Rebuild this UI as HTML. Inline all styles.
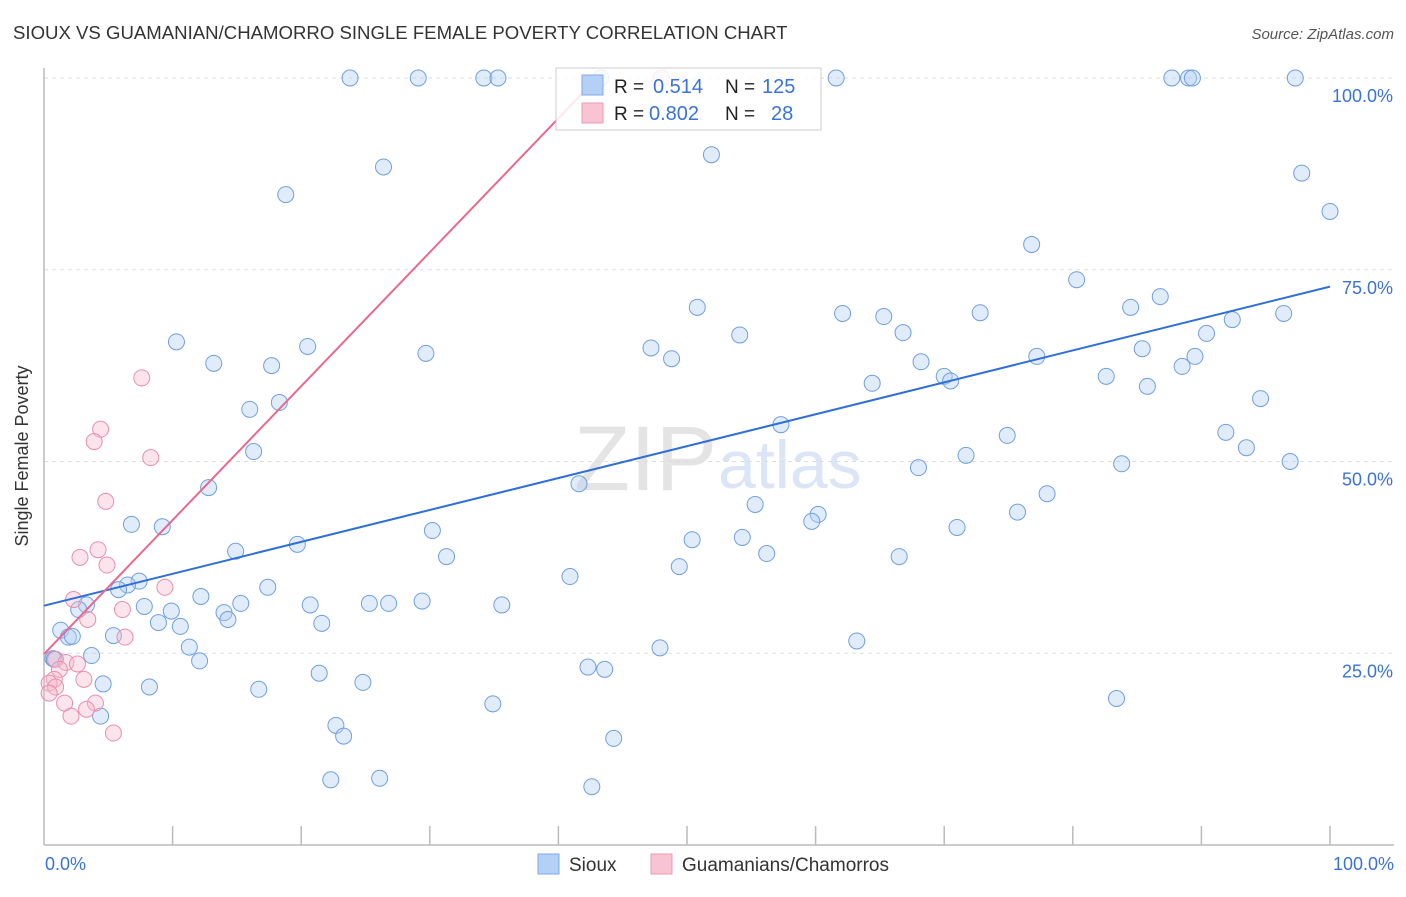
<!DOCTYPE html>
<html><head><meta charset="utf-8"><style>
body{margin:0;background:#fff;font-family:"Liberation Sans",sans-serif;}
svg text{font-family:"Liberation Sans",sans-serif;}
</style></head><body>
<svg width="1406" height="892" xmlns="http://www.w3.org/2000/svg">
<text x="13" y="39" font-size="18.6" fill="#333">SIOUX VS GUAMANIAN/CHAMORRO SINGLE FEMALE POVERTY CORRELATION CHART</text>
<text x="1394" y="39" font-size="15" fill="#555" font-style="italic" text-anchor="end">Source: ZipAtlas.com</text>
<text x="717" y="490" font-size="92" fill="#e4e4e4" font-family="Liberation Serif" text-anchor="end">ZIP</text>
<text x="718" y="488" font-size="68" fill="#dbe5f5">atlas</text>
<g id="grid"></g>
<line x1="44" y1="68" x2="44" y2="845" stroke="#bbb" stroke-width="1.5"/>
<line x1="44" y1="845" x2="1394" y2="845" stroke="#bbb" stroke-width="1.5"/>
<g id="ticks"></g>
<text x="28" y="456" font-size="18" fill="#333" text-anchor="middle" transform="rotate(-90 28 456)">Single Female Poverty</text>
<text x="45" y="870" font-size="18" fill="#3a72d8">0.0%</text>
<text x="1394" y="870" font-size="18" fill="#3a72d8" text-anchor="end">100.0%</text>
<g id="blue"></g><g id="pink"></g><g id="lines"></g>
<g>
<rect x="556" y="68" width="265" height="62" fill="#fff" fill-opacity="0.85" stroke="#ccc"/>
<rect x="582" y="75" width="21" height="20" fill="#b5d0f5" stroke="#7fa8e6"/>
<rect x="582" y="103" width="21" height="20" fill="#f8c3d2" stroke="#ee9ab2"/>
<text x="614" y="93" font-size="19" fill="#222">R = </text><text x="653" y="93" font-size="20" fill="#3a72d8">0.514</text>
<text x="725" y="93" font-size="19" fill="#222">N = </text><text x="762" y="93" font-size="20" fill="#3a72d8">125</text>
<text x="614" y="120" font-size="19" fill="#222">R = </text><text x="649" y="120" font-size="20" fill="#3a72d8">0.802</text>
<text x="725" y="120" font-size="19" fill="#222">N = </text><text x="771" y="120" font-size="20" fill="#3a72d8">28</text>
</g>
<g><rect x="538" y="854" width="21" height="20" fill="#b5d0f5" stroke="#7fa8e6"/><text x="569" y="871" font-size="19" fill="#333">Sioux</text></g>
<g><rect x="651" y="854" width="21" height="20" fill="#f8c3d2" stroke="#ee9ab2"/><text x="682" y="871" font-size="19" fill="#333">Guamanians/Chamorros</text></g>
</svg>
<script>
const yTicks=[25,50,75,100];
const yTickLabels=["25.0%","50.0%","75.0%","100.0%"];
const xTicks=[10,20,30,40,50,60,70,80,90,100];
const siouxX=[23.8,29.1,34.2,35.3,43.3,61.6,87.7,89.0,89.3,97.3,26.4,18.8,51.9,97.8,100,76.8,80.3,86.8,84.5,50.8,62.1,65.3,66.8,54.1,72.8,92.4,96.4,90.4,10.3,20.5,29.7,47.2,48.8,13.2,17.7,85.4,77.2,68.2,89.5,88.5,82.6,70.0,70.5,64.4,85.8,16.0,18.3,94.6,57.3,91.9,74.9,16.3,93.5,71.7,83.8,96.9,68.0,12.8,41.6,78.0,55.3,6.8,9.2,30.2,60.2,59.7,75.7,71.0,50.4,54.3,19.7,14.9,31.3,56.2,66.5,49.4,40.9,7.4,6.5,5.8,17.4,3.3,7.8,12.2,2.7,9.9,15.3,20.7,25.3,26.8,29.4,35.6,14.0,14.3,8.9,10.6,21.6,1.3,1.9,2.2,5.4,0.7,3.7,11.3,12.1,47.9,63.2,4.6,8.2,16.7,21.4,24.8,42.3,43.6,83.4,34.9,4.4,22.7,23.3,44.3,22.3,26.1,42.6,0.8];
const siouxY=[100,100,100,100,100,100,100,100,100,100,88.4,84.8,90.0,87.6,82.6,78.3,73.7,71.5,70.1,70.1,69.3,68.9,66.8,66.5,69.4,68.5,69.3,66.7,65.6,65.0,64.1,64.8,63.4,62.8,62.5,64.7,63.7,63.0,63.7,62.4,61.1,61.1,60.5,60.2,59.8,56.8,57.7,58.2,54.8,53.8,53.4,51.3,51.8,50.8,49.7,50.0,49.2,46.6,47.1,45.8,44.4,41.8,41.5,41.0,43.1,42.2,43.4,41.4,39.8,40.1,39.2,38.3,37.6,38.0,37.6,36.3,35.0,34.4,33.9,33.3,33.6,31.3,31.1,32.4,30.7,30.5,31.5,31.3,31.5,31.5,31.8,31.3,30.3,29.4,29.0,28.5,28.9,28.0,27.1,27.2,27.3,24.3,24.7,25.8,24.0,25.7,26.6,21.0,20.6,20.3,22.4,21.2,23.2,22.9,19.1,18.4,16.8,15.6,14.2,13.9,8.5,8.7,7.6,24.2];
const guamX=[7.6,4.4,3.9,8.3,4.8,4.2,2.8,4.9,9.4,2.3,3.4,6.1,6.3,0.9,1.7,2.6,1.2,0.8,0.4,0.9,0.4,3.1,1.6,4.0,3.3,2.1,5.4,48.0];
const guamY=[60.9,54.2,52.6,50.5,44.8,38.5,37.5,36.5,33.6,32.0,29.4,30.7,27.1,24.2,23.8,23.6,22.9,21.6,21.1,20.6,19.8,21.6,18.5,18.5,17.7,16.8,14.6,100];
const siouxTrend=[31.2,72.8];
const guamTrend=[24.9,199.5];
const X=v=>44+v*12.86, Y=v=>845-v*7.67;
const NS="http://www.w3.org/2000/svg";
function mk(tag,attrs,parent){const e=document.createElementNS(NS,tag);for(const k in attrs)e.setAttribute(k,attrs[k]);document.getElementById(parent).appendChild(e);return e;}
yTicks.forEach((t,i)=>{
 const l=mk('line',{x1:44,x2:1394,y1:Y(t),y2:Y(t),stroke:'#ddd','stroke-dasharray':'4,4'},'grid');
 
 
 const tx=mk('text',{x:1393,y:Y(t)+24,'font-size':18,fill:'#3a72d8','text-anchor':'end'},'grid');tx.textContent=yTickLabels[i];
 
 
});
xTicks.forEach(t=>{
 const l=mk('line',{x1:X(t),x2:X(t),y1:826,y2:845,stroke:'#bbb','stroke-width':1.5},'ticks');
 
 
});
siouxX.forEach((x,i)=>{
 const c=mk('circle',{cx:X(x),cy:Y(siouxY[i]),r:8,fill:'#b3cff3','fill-opacity':0.4,stroke:'#6f9fe0','stroke-width':1},'blue');
 
 
});
guamX.forEach((x,i)=>{
 const c=mk('circle',{cx:X(x),cy:Y(guamY[i]),r:8,fill:'#f6bccd','fill-opacity':0.4,stroke:'#ea8fab','stroke-width':1},'pink');
 
 
});
const bl=mk('line',{x1:X(0),y1:Y(siouxTrend[0]),x2:X(100),y2:Y(siouxTrend[1]),stroke:'#2f6fd6','stroke-width':2},'lines');


const xe=(100-guamTrend[0])/(guamTrend[1]-guamTrend[0])*100;
const pl=mk('line',{x1:X(0),y1:Y(guamTrend[0]),x2:X(xe),y2:Y(100),stroke:'#e8688e','stroke-width':2},'lines');


</script>
</body></html>
